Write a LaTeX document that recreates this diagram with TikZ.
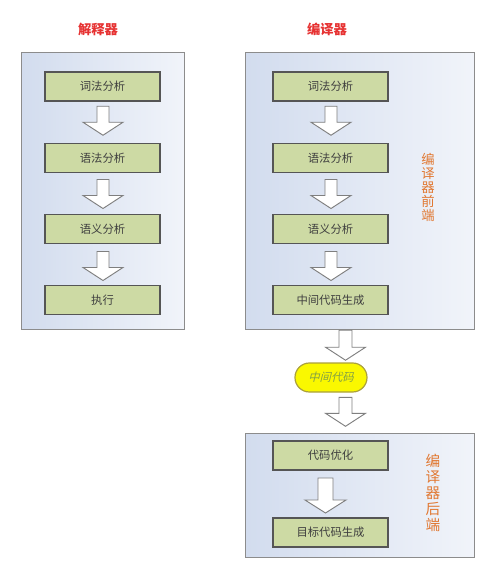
\documentclass[tikz,border=0pt]{standalone}
\usepackage{fontspec}
\setmainfont{Noto Sans CJK SC}
\newfontfamily\cjkit[FakeSlant=0.25]{Noto Sans CJK SC}
\usetikzlibrary{calc}
\definecolor{panelL}{RGB}{210,220,238}
\definecolor{panelR}{RGB}{241,244,250}
\definecolor{panelB}{RGB}{140,140,140}
\definecolor{boxF}{RGB}{205,218,164}
\definecolor{boxB}{RGB}{85,85,85}
\definecolor{boxT}{RGB}{63,63,63}
\definecolor{arrB}{RGB}{127,127,127}
\definecolor{ylw}{RGB}{250,248,0}
\definecolor{ylwB}{RGB}{170,160,60}
\definecolor{itT}{RGB}{130,160,70}
\definecolor{orng}{RGB}{225,120,50}
\definecolor{ttlred}{RGB}{230,50,50}
\tikzset{
  panel/.style={draw=panelB, line width=0.8pt, left color=panelL, right color=panelR, shading angle=90, anchor=north west, inner sep=0pt},
  stepbox/.style={draw=boxB, line width=0.8pt, fill=boxF, text=boxT, minimum width=86.25pt, minimum height=21.75pt, inner sep=0pt, font=\fontsize{8.5}{10}\selectfont},
  ttl/.style={text=ttlred, font=\fontsize{10}{12}\selectfont\bfseries},
  vtext/.style={text=orng, align=center, inner sep=0pt},
  midcode/.style={draw=ylwB, line width=0.9pt, fill=ylw, rounded corners=10.8pt, minimum width=54pt, minimum height=21.75pt, inner sep=0pt, text=itT, font=\cjkit\fontsize{8.5}{10}\selectfont},
  blockarr/.style={draw=arrB, line width=0.7pt, fill=white, line join=miter},
  pics/downarr/.style args={#1/#2/#3}{code={
    \draw[blockarr] (-#2,{-#1/2}) -- (#2,{-#1/2}) -- (#2,{#1/2-13}) -- (#3,{#1/2-13}) -- (0,{#1/2}) -- (-#3,{#1/2-13}) -- (-#2,{#1/2-13}) -- cycle;
  }}
}
\begin{document}
\begin{tikzpicture}[x=0.75pt,y=-0.75pt]
\useasboundingbox (0,0) rectangle (496,582);
% titles
\node[ttl] (t1) at (98,29) {解释器};
\node[ttl] (t2) at (327,29) {编译器};
% panels
\node[panel, minimum width=122.25pt, minimum height=207.75pt] (P1) at (21,52) {};
\node[panel, minimum width=171.75pt, minimum height=207.75pt] (P2) at (245,52) {};
\node[panel, minimum width=171.75pt, minimum height=93pt] (P3) at (245,433) {};
% left column
\node[stepbox] (a1) at (102.5,86.5) {词法分析};
\node[stepbox] (a2) at (102.5,158) {语法分析};
\node[stepbox] (a3) at (102.5,229) {语义分析};
\node[stepbox] (a4) at (102.5,300) {执行};
\path ($(a1.south)!0.5!(a2.north)+(0.5,-1.5)$) pic {downarr=29/6/20};
\path ($(a2.south)!0.5!(a3.north)+(0.5,0.5)$) pic {downarr=29/6/20};
\path ($(a3.south)!0.5!(a4.north)+(0.5,1.5)$) pic {downarr=29/6/20};
% right column
\node[stepbox] (b1) at (330.5,86.5) {词法分析};
\node[stepbox] (b2) at (330.5,158) {语法分析};
\node[stepbox] (b3) at (330.5,229) {语义分析};
\node[stepbox] (b4) at (330.5,300) {中间代码生成};
\path ($(b1.south)!0.5!(b2.north)+(0.5,-1.5)$) pic {downarr=29/6/20};
\path ($(b2.south)!0.5!(b3.north)+(0.5,0.5)$) pic {downarr=29/6/20};
\path ($(b3.south)!0.5!(b4.north)+(0.5,1.5)$) pic {downarr=29/6/20};
\node[vtext, font=\fontsize{10}{10.5}\selectfont] (v1) at (428,187) {编\\译\\器\\前\\端};
% middle
\node[midcode] (m) at (331,377.5) {中间代码};
\path ($(P2.south)!0.5!(m.north)+(0,-1)$) pic {downarr=30/6.5/20};
\path ($(m.south)!0.5!(P3.north)+(0,-1)$) pic {downarr=29/6.5/20};
% bottom panel
\node[stepbox] (c1) at (330.5,455.5) {代码优化};
\node[stepbox] (c2) at (330.5,532.5) {目标代码生成};
\path ($(c1.south)!0.5!(c2.north)+(-5,1.5)$) pic {downarr=35/7.5/20.5};
\node[vtext, font=\fontsize{11}{12}\selectfont] (v2) at (433,492.5) {编\\译\\器\\后\\端};
\end{tikzpicture}
\end{document}
